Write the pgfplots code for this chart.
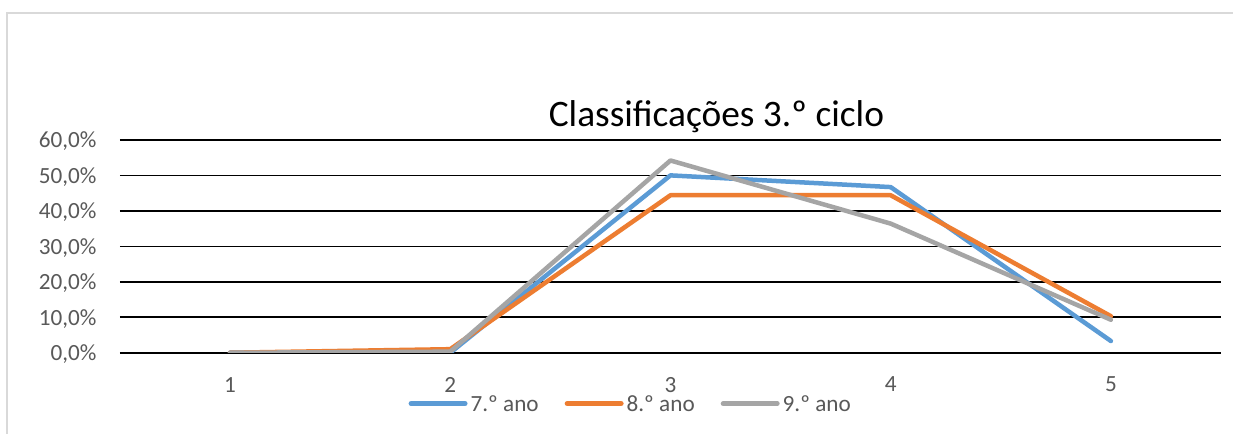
\documentclass[border=0pt]{standalone}
\usepackage{pgfplots}
\pgfplotsset{compat=1.18}
\usepackage{fontspec}
\setmainfont{Carlito}
\definecolor{cblue}{HTML}{5B9BD5}
\definecolor{corange}{HTML}{ED7D31}
\definecolor{cgray}{HTML}{A5A5A5}
\definecolor{ctext}{HTML}{595959}
\definecolor{cframe}{HTML}{D9D9D9}
\begin{document}
\begin{tikzpicture}
\path[draw=none,fill=white] (0pt,0pt) rectangle (617pt,-217pt);
\draw[cframe,line width=1pt] (3.5pt,-217pt) -- (3.5pt,-6.75pt) -- (617pt,-6.75pt);
\node[anchor=base, font=\fontsize{18.7}{22}\selectfont, text=black, inner sep=0pt] at (358.5pt,-63.5pt) {Classificações 3.º ciclo};
\begin{axis}[
  at={(60pt,-176.5pt)}, anchor=south west,
  scale only axis, width=551pt, height=106.5pt,
  xmin=0.5, xmax=5.5, ymin=0, ymax=60,
  axis line style={draw=none},
  major tick length=0pt,
  xtick={1,2,3,4,5}, xticklabels={1,2,3,4,5},
  ytick={0,10,20,30,40,50,60},
  yticklabels={{0,0\%},{10,0\%},{20,0\%},{30,0\%},{40,0\%},{50,0\%},{60,0\%}},
  ymajorgrids, grid style={black, line width=0.8pt},
  tick label style={font=\fontsize{11.6}{14}\selectfont, text=ctext, inner sep=0pt, text depth=0pt},
  yticklabel style={anchor=east, xshift=-11.5pt},
  xticklabel style={anchor=north, yshift=-12pt},
  legend style={at={(0.463,-0.239)}, anchor=center, draw=none, fill=none,
    font=\fontsize{11.6}{14}\selectfont, text=ctext, inner sep=0pt,
    /tikz/every odd column/.append style={column sep=1.5pt},
    /tikz/every even column/.append style={column sep=13pt},
    nodes={inner sep=0pt, text depth=0pt}},
  legend columns=3,
  legend image code/.code={\draw[#1, line width=2.5pt, line cap=round] (0pt,0pt) -- (27pt,0pt);},
  every axis plot/.append style={line width=2.25pt, line join=round, line cap=round},
]
\addplot[cblue] coordinates {(1,0) (2,0) (3,50.0) (4,46.7) (5,3.3)};
\addlegendentry{7.º ano}
\addplot[corange] coordinates {(1,0) (2,1.0) (3,44.4) (4,44.4) (5,10.3)};
\addlegendentry{8.º ano}
\addplot[cgray] coordinates {(1,0) (2,0.3) (3,54.2) (4,36.4) (5,9.3)};
\addlegendentry{9.º ano}
\end{axis}
\end{tikzpicture}
\end{document}
